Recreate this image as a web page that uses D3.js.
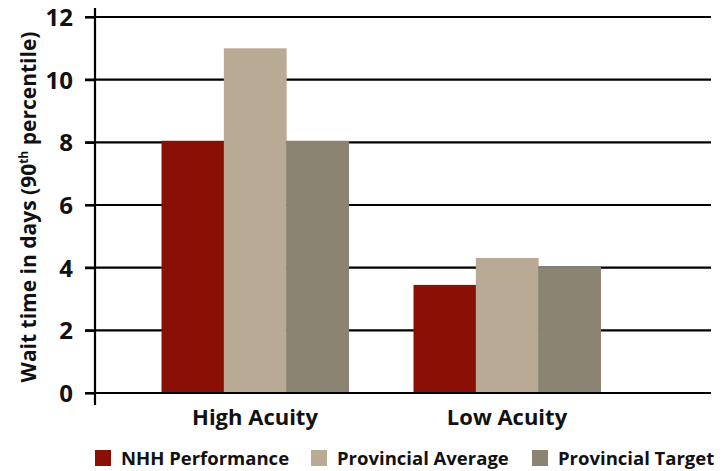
<!DOCTYPE html>
<html>
<head>
<meta charset="utf-8">
<script src="https://cdn.jsdelivr.net/npm/d3@7"></script>
<style>
  body { margin: 0; background: #fff; }
  text { font-family: "Open Sans", "Noto Sans", sans-serif; font-weight: 700; fill: #111; }
</style>
</head>
<body>
<div class="chart-area"></div>
<script>
// chart data
var categories = ["High Acuity", "Low Acuity"];
var seriesNames = ["NHH Performance", "Provincial Average", "Provincial Target"];
var highAcuity = [8.05, 11, 8.05];
var lowAcuity = [3.45, 4.31, 4.02];
var yTicks = [0, 2, 4, 6, 8, 10, 12];

var colors = ["#8a1005", "#b9aa95", "#8c8472"];

var svg = d3.select(".chart-area").append("svg")
    .attr("width", 728)
    .attr("height", 471);

var rows = [highAcuity, lowAcuity].map(function(vals, i) {
    return { cat: categories[i], values: vals };
});

// scales
var y = d3.scaleLinear().domain([0, 12]).range([393, 17]);
var x0 = d3.scaleBand().domain(categories).range([96, 666])
    .paddingInner(0.258).paddingOuter(0.26);
var x1 = d3.scaleBand().domain(seriesNames).range([0, x0.bandwidth()]);

// gridlines
svg.selectAll("line.grid")
    .data(yTicks)
    .enter()
    .append("line")
    .attr("class", "grid")
    .attr("x1", 85)
    .attr("x2", 711)
    .attr("y1", function(d) { return y(d); })
    .attr("y2", function(d) { return y(d); })
    .attr("stroke", "#000")
    .attr("stroke-width", 2.2);

// bars
var groups = svg.selectAll("g.group")
    .data(rows)
    .enter()
    .append("g")
    .attr("transform", function(d) { return "translate(" + x0(d.cat) + ",0)"; });

groups.selectAll("rect")
    .data(function(d) {
        return d.values.map(function(v, i) { return { name: seriesNames[i], value: v, i: i }; });
    })
    .enter()
    .append("rect")
    .attr("x", function(d) { return x1(d.name); })
    .attr("width", x1.bandwidth() + 0.5)
    .attr("y", function(d) { return y(d.value); })
    .attr("height", function(d) { return y(0) - y(d.value); })
    .attr("fill", function(d) { return colors[d.i]; });

// baseline on top
svg.append("line")
    .attr("x1", 85).attr("x2", 711)
    .attr("y1", y(0)).attr("y2", y(0))
    .attr("stroke", "#000").attr("stroke-width", 2.2);

// y axis
var yAxis = svg.append("g")
    .attr("transform", "translate(95,0)")
    .call(d3.axisLeft(y).tickValues(yTicks).tickSize(10).tickPadding(12));
yAxis.select(".domain").remove();
yAxis.selectAll(".tick line").attr("stroke", "#000").attr("stroke-width", 2.2);
yAxis.selectAll(".tick text")
    .attr("dy", "0.36em")
    .style("font-size", "24px")
    .style("font-family", "'Open Sans', sans-serif")
    .style("font-weight", "700")
    .attr("fill", "#111");

svg.append("line")
    .attr("x1", 95).attr("x2", 95)
    .attr("y1", 8).attr("y2", 405)
    .attr("stroke", "#000").attr("stroke-width", 2.2);

// y axis title
var yTitle = svg.append("text")
    .attr("transform", "translate(36,207) rotate(-90)")
    .attr("text-anchor", "middle")
    .style("font-size", "21px");
yTitle.append("tspan").text("Wait time in days (90");
yTitle.append("tspan").attr("dy", -8).style("font-size", "12px").text("th");
yTitle.append("tspan").attr("dy", 8).text(" percentile)");

// category labels
svg.selectAll("text.cat")
    .data(categories)
    .enter()
    .append("text")
    .attr("class", "cat")
    .attr("x", function(d) { return x0(d) + x0.bandwidth() / 2; })
    .attr("y", 425)
    .attr("text-anchor", "middle")
    .style("font-size", "22px")
    .text(function(d) { return d; });

// legend
var legendX = [95, 311, 532];
var legend = svg.selectAll("g.legend")
    .data(seriesNames)
    .enter()
    .append("g")
    .attr("transform", function(d, i) { return "translate(" + legendX[i] + ",450)"; });

legend.append("rect")
    .attr("width", 16)
    .attr("height", 16)
    .attr("fill", function(d, i) { return colors[i]; });

legend.append("text")
    .attr("x", 26)
    .attr("y", 15)
    .style("font-size", "18.5px")
    .text(function(d) { return d; });
</script>
</body>
</html>
